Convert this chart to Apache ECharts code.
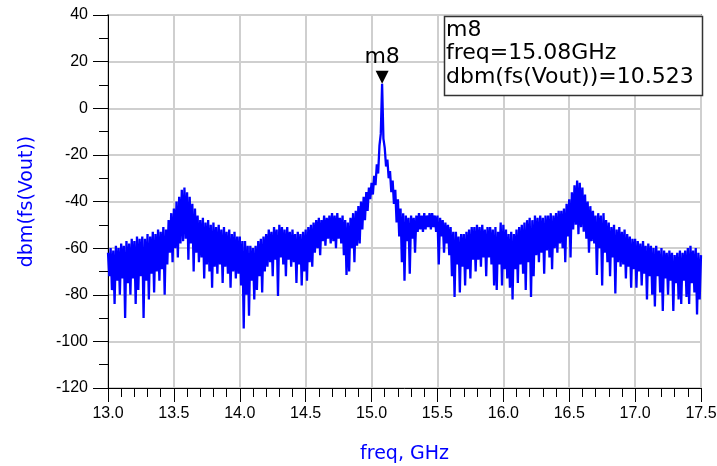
<!DOCTYPE html>
<html>
<head>
<meta charset="utf-8">
<script src="https://cdn.jsdelivr.net/npm/echarts@6/dist/echarts.min.js"></script>
<style>
html,body{margin:0;padding:0;background:#fff;}
#chart{width:717px;height:466px;}
</style>
</head>
<body>
<div id="chart"></div>
<script>
// Frequency grid (GHz): upper samples start at 13.00, lower samples at 13.01, both every 0.02 GHz
var hiStart = 13.00, loStart = 13.01, step = 0.02;
// Upper edge of the noisy spectrum, dBm (13.00 ... 17.50)
var hiVals = [
 -62,-60,-61,-59,-60,-58,-59,-57,-58,-56,
 -57,-55,-56,-55,-56,-54,-55,-53,-54,-52,
 -53,-51,-52,-48,-45,-43,-40,-38,-35,-34,
 -36,-38,-41,-43,-46,-48,-47,-49,-48,-50,
 -49,-51,-50,-52,-51,-53,-52,-54,-53,-55,
 -55,-57,-57,-59,-59,-60,-59,-57,-56,-55,
 -54,-52,-53,-51,-52,-50,-51,-52,-51,-53,
 -52,-54,-53,-54,-53,-52,-51,-50,-49,-48,
 -47,-48,-46,-47,-46,-45,-46,-45,-47,-46,
 -48,-49,-47,-45,-44,-42,-40,-38,-36,-34,
 -32,-29,-24,-16,10.523,-17,-22,-27,-31,-35,
 -39,-43,-45,-46,-47,-46,-47,-46,-45,-46,
 -45,-46,-45,-45,-46,-46,-47,-48,-49,-50,
 -51,-53,-53,-55,-54,-54,-53,-52,-51,-51,
 -50,-51,-50,-52,-51,-51,-52,-51,-53,-49,
 -50,-52,-54,-53,-54,-52,-51,-50,-49,-48,
 -47,-48,-46,-47,-46,-47,-46,-46,-45,-46,
 -45,-44,-44,-43,-41,-39,-36,-33,-31,-32,
 -34,-37,-40,-42,-44,-46,-45,-46,-45,-48,
 -49,-51,-50,-52,-51,-53,-52,-54,-55,-56,
 -56,-57,-58,-57,-59,-58,-59,-60,-59,-61,
 -60,-61,-62,-61,-62,-63,-62,-61,-62,-61,
 -60,-59,-61,-60,-62,-63
];
// Lower edge / downward spikes, dBm (13.01 ... 17.49)
var loVals = [
 -72,-78,-84,-74,-80,-73,-90,-75,-80,-73,
 -84,-78,-72,-90,-74,-82,-71,-79,-70,-74,
 -69,-80,-67,-62,-66,-60,-64,-58,-57,-56,
 -65,-58,-70,-62,-66,-64,-73,-67,-70,-77,
 -68,-71,-67,-75,-68,-71,-77,-70,-73,-71,
 -76,-94.5,-80,-89,-74,-82,-78,-72,-79,-70,
 -68,-66,-72,-65,-80.5,-64,-67,-72,-65,-68,
 -66,-75,-67,-76,-70,-74,-66,-68,-62,-60,
 -63,-57,-59,-56,-58,-57,-60,-56,-58,-63,
 -71.5,-70,-60,-66,-59,-58,-52,-48,-44,-39,
 -37,-33,-28,-11,-13,-25,-30,-36,-41,-49,
 -55,-66,-74,-57,-71,-56,-62,-53,-52,-53,
 -52,-51,-52,-51,-53,-67,-55,-62,-58,-63,
 -72,-81,-67,-79,-68,-76,-69,-73,-65,-70,
 -65,-68,-64,-72,-64,-67,-76,-78,-67,-76,
 -69,-73,-77,-82,-69,-75,-67,-71,-78,-66,
 -81,-72,-63,-66,-62,-71,-61,-64,-69,-60,
 -62,-58,-60,-66,-55,-64,-52,-50,-54,-51,
 -53,-56,-62,-57,-58,-71.5,-60,-76,-62,-66,
 -72,-64,-79.5,-66,-68,-67,-73,-68,-77,-69,
 -77,-70,-76,-71,-82,-72,-80,-85,-72,-79,
 -87,-73,-80,-74,-87,-75,-82,-84,-74,-81,
 -84,-75,-79,-88.5,-82
];
// Marker m8
var markerName = 'm8';
var markerFreq = 15.08;
var markerVal = 10.523;
// Axis ticks
var xTicks = [13.0, 13.5, 14.0, 14.5, 15.0, 15.5, 16.0, 16.5, 17.0, 17.5];
var yTicks = [-120, -100, -80, -60, -40, -20, 0, 20, 40];

var data = [];
for (var i = 0; i < hiVals.length; i++) {
  data.push([+(hiStart + step * i).toFixed(2), hiVals[i]]);
  if (i < loVals.length) data.push([+(loStart + step * i).toFixed(2), loVals[i]]);
}

var chart = echarts.init(document.getElementById('chart'), null, {renderer: 'canvas'});
var axisFont = 'Liberation Sans, Arial, sans-serif';
var titleFont = 'DejaVu Sans, sans-serif';
chart.setOption({
  animation: false,
  backgroundColor: '#fff',
  grid: {left: 108, right: 16, top: 15, bottom: 78, outerBoundsMode: 'none', containLabel: false,
    show: true, borderColor: '#444', borderWidth: 1.5, backgroundColor: 'transparent'},
  xAxis: {
    type: 'value',
    min: xTicks[0], max: xTicks[xTicks.length - 1], interval: 0.5,
    name: 'freq, GHz', nameLocation: 'middle', nameGap: 57,
    nameTextStyle: {color: '#0000ff', fontFamily: titleFont, fontSize: 19, verticalAlign: 'top'},
    axisLine: {show: true, onZero: false, lineStyle: {color: '#000', width: 1}},
    axisTick: {show: true, inside: false, length: 14, lineStyle: {color: '#000'}},
    minorTick: {show: true, splitNumber: 5, length: 9, lineStyle: {color: '#000'}},
    axisLabel: {color: '#000', fontFamily: axisFont, fontSize: 16, margin: 18, showMaxLabel: true, showMinLabel: true,
      formatter: function (v) { return v.toFixed(1); }},
    splitLine: {show: true, lineStyle: {color: '#cfcfcf', width: 2}}
  },
  yAxis: {
    type: 'value',
    min: yTicks[0], max: yTicks[yTicks.length - 1], interval: 20,
    name: 'dbm(fs(Vout))', nameLocation: 'middle', nameGap: 71,
    nameTextStyle: {color: '#0000ff', fontFamily: titleFont, fontSize: 19},
    axisLine: {show: true, onZero: false, lineStyle: {color: '#000', width: 1}},
    axisTick: {show: true, inside: false, length: 15, lineStyle: {color: '#000'}},
    minorTick: {show: true, splitNumber: 2, length: 9, lineStyle: {color: '#000'}},
    axisLabel: {color: '#000', fontFamily: axisFont, fontSize: 16, margin: 20},
    splitLine: {show: true, lineStyle: {color: '#cfcfcf', width: 2}}
  },
  series: [
    {
      type: 'line',
      data: data,
      showSymbol: false,
      symbol: 'none',
      sampling: null,
      lineStyle: {color: '#0000ff', width: 2.3, join: 'miter', miterLimit: 2},
      clip: true,
      z: 3
    },
    {
      type: 'scatter',
      data: [[markerFreq, markerVal]],
      symbol: 'triangle',
      symbolRotate: 180,
      symbolSize: [13, 13],
      symbolOffset: [0, -6.5],
      itemStyle: {color: '#000', opacity: 1},
      label: {show: true, position: 'top', distance: 2, formatter: markerName,
        color: '#000', opacity: 1, fontFamily: titleFont, fontSize: 22},
      z: 5
    }
  ],
  graphic: [
    {type: 'rect', shape: {x: 444.5, y: 16.5, width: 258, height: 79},
      style: {fill: '#fff', stroke: '#333', lineWidth: 1.5}, z: 10},
    {type: 'text', x: 446, y: 30, style: {text: markerName, font: '22px "DejaVu Sans"', fill: '#000', textVerticalAlign: 'middle'}, z: 11},
    {type: 'text', x: 446, y: 53.5, style: {text: 'freq=' + markerFreq.toFixed(2) + 'GHz', font: '22px "DejaVu Sans"', fill: '#000', textVerticalAlign: 'middle'}, z: 11},
    {type: 'text', x: 446, y: 77, style: {text: 'dbm(fs(Vout))=' + markerVal.toFixed(3), font: '22px "DejaVu Sans"', fill: '#000', textVerticalAlign: 'middle'}, z: 11}
  ]
});
</script>
</body>
</html>
